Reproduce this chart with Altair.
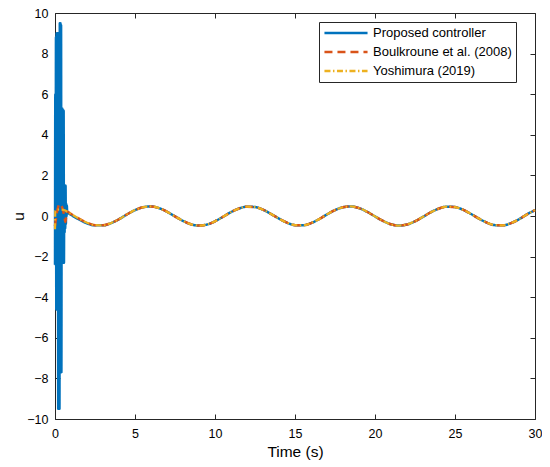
import altair as alt
import pandas as pd

# ---- data ----
series_names = ["Proposed controller", "Boulkroune et al. (2008)", "Yoshimura (2019)"]
series_colors = ["#0072BD", "#D95319", "#EDB120"]

# Proposed controller: initial chattering burst
t_blue_init = [0.00, 0.02, 0.04, 0.06, 0.08, 0.10, 0.12, 0.14, 0.16, 0.18,
               0.20, 0.22, 0.24, 0.26, 0.28, 0.30, 0.32, 0.34, 0.36, 0.38,
               0.40, 0.42, 0.44, 0.46, 0.48, 0.50, 0.52, 0.54, 0.56, 0.58,
               0.60, 0.62, 0.64, 0.66, 0.68, 0.70, 0.72, 0.74, 0.76,
               1.0, 1.5, 2.0, 2.5]
u_blue_init = [-2.4, 6.0, -2.4, 8.8, -4.6, 9.0, -4.6, 9.0, -4.6, 9.0,
               -9.5, 9.0, -9.5, 9.0, -9.5, 9.5, -7.7, 9.5, -7.7, 9.4,
               -7.7, 5.3, -2.3, 5.3, -2.3, 5.2, -2.3, 5.2, -2.3, 1.5,
               -0.8, 1.5, -0.6, 1.5, -0.4, 0.6, 0.0, 0.5, 0.2,
               0.06, -0.17, -0.36, -0.46]

# Boulkroune et al. (2008): initial transient
t_red_init = [0.0, 0.1, 0.2, 0.3, 0.4, 0.5, 0.6, 0.65, 0.7, 0.75]
u_red_init = [-0.5, 0.1, 0.45, 0.6, 0.5, 0.3, -0.1, -0.3, 0.0, 0.22]

# Yoshimura (2019): initial transient
t_yel_init = [0.0, 0.02, 0.1, 0.3, 0.5, 0.6, 0.75]
u_yel_init = [-0.65, 0.25, 0.3, 0.32, 0.3, 0.28, 0.22]

# common steady-state response (all three controllers overlap)
t_common = [1.0, 1.5, 2.0, 2.5, 3.0, 3.5, 4.0, 4.5, 5.0, 5.5,
            6.0, 6.5, 7.0, 7.5, 8.0, 8.5, 9.0, 9.5, 10.0, 10.5,
            11.0, 11.5, 12.0, 12.5, 13.0, 13.5, 14.0, 14.5, 15.0, 15.5,
            16.0, 16.5, 17.0, 17.5, 18.0, 18.5, 19.0, 19.5, 20.0, 20.5,
            21.0, 21.5, 22.0, 22.5, 23.0, 23.5, 24.0, 24.5, 25.0, 25.5,
            26.0, 26.5, 27.0, 27.5, 28.0, 28.5, 29.0, 29.5, 30.0]
u_common = [0.10, -0.13, -0.33, -0.45, -0.46, -0.35, -0.16, 0.08, 0.29, 0.43,
            0.47, 0.39, 0.21, -0.02, -0.24, -0.41, -0.47, -0.42, -0.26, -0.04,
            0.19, 0.37, 0.46, 0.44, 0.31, 0.10, -0.13, -0.33, -0.45, -0.46,
            -0.35, -0.16, 0.08, 0.29, 0.43, 0.47, 0.39, 0.21, -0.02, -0.24,
            -0.41, -0.47, -0.42, -0.26, -0.04, 0.19, 0.37, 0.46, 0.44, 0.31,
            0.10, -0.13, -0.33, -0.45, -0.46, -0.35, -0.16, 0.08, 0.29]

x_ticks = [0, 5, 10, 15, 20, 25, 30]
y_ticks = [-10, -8, -6, -4, -2, 0, 2, 4, 6, 8, 10]


def build(ts, us, name):
    return pd.DataFrame({"t": ts, "u": us, "series": name})


blue_df = pd.concat([build(t_blue_init, u_blue_init, series_names[0]),
                     build(t_common[4:], u_common[4:], series_names[0])])
red_df = pd.concat([build(t_red_init, u_red_init, series_names[1]),
                    build(t_common, u_common, series_names[1])])
yel_df = pd.concat([build(t_yel_init, u_yel_init, series_names[2]),
                    build(t_common, u_common, series_names[2])])

FONT = "Liberation Sans"
INK = "#262626"

x_scale = alt.Scale(domain=[0, 30], nice=False, zero=False)
y_scale = alt.Scale(domain=[-10, 10], nice=False, zero=False)

x_axis = alt.Axis(values=x_ticks, format="d", offset=-5, tickSize=5, domain=False,
                  grid=False, labelPadding=8, labelFontSize=12.5, labelFlush=False,
                  title="Time (s)", titleFontSize=15.5, titleFontWeight="normal",
                  titlePadding=5, tickColor=INK, labelColor="#000000",
                  titleColor="#000000")
y_axis = alt.Axis(values=y_ticks, format="d", offset=-5, tickSize=5, domain=False,
                  grid=False, labelPadding=7, labelFontSize=12.5,
                  title="u", titleFontSize=15.5, titleFontWeight="normal",
                  titlePadding=0, tickColor=INK, labelColor="#000000",
                  titleColor="#000000")

legend_opts = dict(title=None, orient="none", legendX=264, legendY=9,
                   symbolType="M-4,0H4", symbolSize=116,
                   symbolOffset=16, symbolStrokeWidth=2.5, labelFontSize=13,
                   labelOffset=20, padding=4, rowPadding=5,
                   strokeColor=INK, fillColor="#ffffff",
                   labelColor="#000000",
                   labelExpr="datum.label + '       '")

color_enc = alt.Color("series:N",
                      scale=alt.Scale(domain=series_names, range=series_colors),
                      legend=alt.Legend(**legend_opts))
dash_enc = alt.StrokeDash("series:N",
                          scale=alt.Scale(domain=series_names,
                                          range=[[1, 0], [8, 5], [6, 2.5, 1.5, 2.5]]),
                          legend=alt.Legend(**legend_opts))


def series_layer(df, width):
    return alt.Chart(df).mark_line(strokeWidth=width, interpolate="monotone").encode(
        x=alt.X("t:Q", scale=x_scale, axis=x_axis),
        y=alt.Y("u:Q", scale=y_scale, axis=y_axis),
        color=color_enc,
        strokeDash=dash_enc,
        order=alt.Order("t:Q"),
    )


lines = alt.layer(series_layer(blue_df, 2.5), series_layer(red_df, 2.5),
                  series_layer(yel_df, 2.2))

ticks_layer = alt.Chart(build(t_common, u_common, "ticks")).mark_line(opacity=0).encode(
    x=alt.X("t:Q", scale=x_scale,
            axis=alt.Axis(orient="top", values=x_ticks, offset=-5, tickSize=5,
                          domain=False, labels=False, grid=False, title=None,
                          tickColor=INK)),
    y=alt.Y("u:Q", scale=y_scale,
            axis=alt.Axis(orient="right", values=y_ticks, offset=-5, tickSize=5,
                          domain=False, labels=False, grid=False, title=None,
                          tickColor=INK)),
)

chart = alt.layer(lines, ticks_layer).resolve_scale(
    x="independent", y="independent"
).properties(
    width=480, height=406,
    padding={"left": 47, "top": 5, "right": 7, "bottom": 46},
    autosize=alt.AutoSizeParams(type="none"),
    background="#ffffff",
).configure(font=FONT).configure_view(stroke=INK, strokeWidth=1)

chart.save("out.html", embed_options={"renderer": "svg", "actions": False})
